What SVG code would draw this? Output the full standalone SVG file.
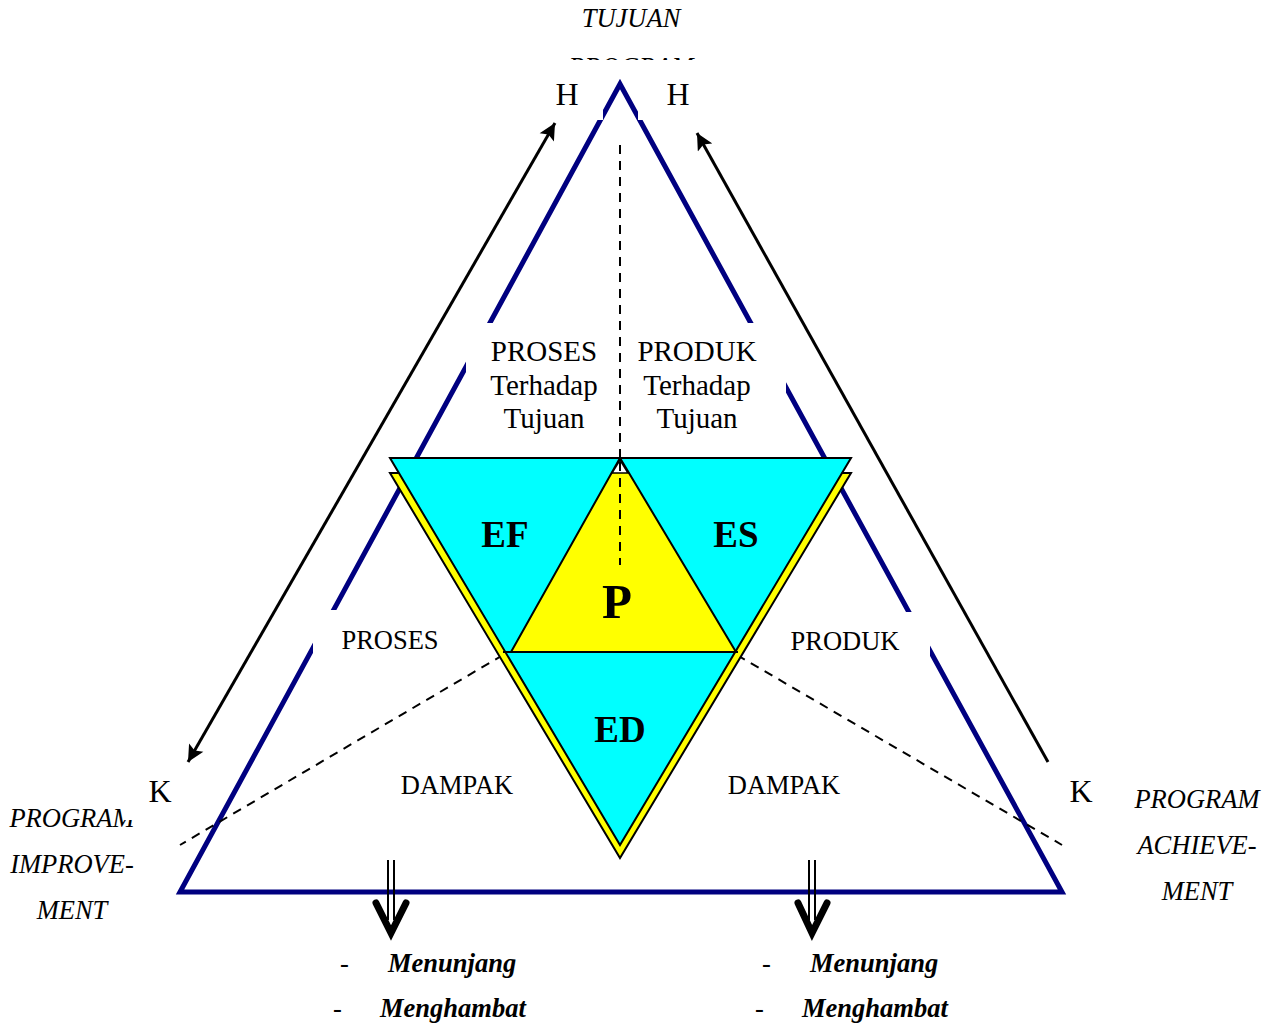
<svg xmlns="http://www.w3.org/2000/svg" width="1277" height="1025" viewBox="0 0 1277 1025">
<defs>
<style>
text{font-family:"Liberation Serif","Times New Roman",serif;fill:#000}
.lbl{font-size:29px;text-anchor:middle}
.sm{font-size:26.5px;text-anchor:middle}
.it{font-size:26.5px;font-style:italic;text-anchor:middle}
.big{font-size:37px;font-weight:bold;text-anchor:middle}
.bi{font-size:26.5px;font-weight:bold;font-style:italic}
.dsh{font-size:26.5px}
.hk{font-size:32px;text-anchor:middle}
.dash{stroke:#000;stroke-width:2;stroke-dasharray:9,7;fill:none}
.wb{fill:#fff;stroke:none}
.tri{stroke:#000;stroke-width:2;stroke-linejoin:miter}
</style>
<marker id="ah" viewBox="0 0 10 10" refX="10" refY="5" markerWidth="6" markerHeight="5.5" orient="auto-start-reverse" markerUnits="strokeWidth">
<path d="M0,0 L10,5 L0,10 L2,5 Z" fill="#000"/>
</marker>
</defs>
<rect width="1277" height="1025" fill="#fff"/>

<g id="title">
<text class="it" x="631" y="27">TUJUAN</text>
<text class="it" x="631" y="76">PROGRAM</text>
<rect class="wb" x="540" y="60" width="170" height="22"/>
</g>

<g id="outer-triangle">
<polygon points="620,84 180,892 1062,892" fill="none" stroke="#000080" stroke-width="5"/>
</g>

<g id="cover-boxes">
<rect class="wb" x="540" y="82" width="63" height="38"/>
<rect class="wb" x="638" y="82" width="62" height="38"/>
<rect class="wb" x="466" y="323" width="134" height="117"/>
<rect class="wb" x="630" y="323" width="156" height="117"/>
<rect class="wb" x="313" y="610" width="130" height="55"/>
<rect class="wb" x="760" y="612" width="170" height="55"/>
</g>

<g id="connectors">
<line class="dash" x1="620" y1="145" x2="620" y2="565"/>
<line class="dash" x1="503" y1="655" x2="180" y2="845"/>
<line class="dash" x1="737" y1="655" x2="1062" y2="845"/>
<line x1="188" y1="762" x2="555" y2="123" stroke="#000" stroke-width="3" marker-start="url(#ah)" marker-end="url(#ah)"/>
<line x1="1048" y1="762" x2="697" y2="133" stroke="#000" stroke-width="3" marker-end="url(#ah)"/>
<g id="down-arrow-left" fill="none" stroke="#000">
<line x1="388" y1="860" x2="388" y2="920" stroke-width="2"/>
<line x1="394" y1="860" x2="394" y2="920" stroke-width="2"/>
<polyline points="376,903 391,933 406,903" stroke-width="7" stroke-linecap="round" stroke-linejoin="miter"/>
</g>
<g id="down-arrow-right" fill="none" stroke="#000">
<line x1="809" y1="860" x2="809" y2="920" stroke-width="2"/>
<line x1="815" y1="860" x2="815" y2="920" stroke-width="2"/>
<polyline points="798,903 812,933 827,903" stroke-width="7" stroke-linecap="round" stroke-linejoin="miter"/>
</g>
</g>

<g id="inner-triangle">
<polygon class="tri" points="390,473 851,473 620,858" fill="#ffff00"/>
<polygon class="tri" points="390,458 851,458 620,845" fill="#00ffff"/>
<polygon class="tri" points="620,458 511,652 736,652" fill="#ffff00"/>
<polygon points="620,460 612,473 628,473" fill="#fff" stroke="#000" stroke-width="1.5"/>
<line x1="503" y1="652" x2="738" y2="652" stroke="#000" stroke-width="2"/>
<line class="dash" x1="620" y1="462" x2="620" y2="565"/>
</g>

<g id="node-EF"><text class="big" x="505" y="547">EF</text></g>
<g id="node-ES"><text class="big" x="736" y="547">ES</text></g>
<g id="node-P"><text class="big" x="617" y="618" style="font-size:49px">P</text></g>
<g id="node-ED"><text class="big" x="620" y="742">ED</text></g>

<g id="labels">
<text class="lbl" x="544" y="361">PROSES</text>
<text class="lbl" x="544" y="395">Terhadap</text>
<text class="lbl" x="544" y="428">Tujuan</text>
<text class="lbl" x="697" y="361">PRODUK</text>
<text class="lbl" x="697" y="395">Terhadap</text>
<text class="lbl" x="697" y="428">Tujuan</text>
<text class="sm" x="390" y="649">PROSES</text>
<text class="sm" x="845" y="650">PRODUK</text>
<text class="sm" x="457" y="794">DAMPAK</text>
<text class="sm" x="784" y="794">DAMPAK</text>
<text class="hk" x="567" y="105">H</text>
<text class="hk" x="678" y="105">H</text>
<text class="hk" x="1081" y="802">K</text>
</g>

<g id="program-improvement">
<text class="it" x="72" y="827">PROGRAM</text>
<rect class="wb" x="124" y="775" width="60" height="45"/>
<text class="it" x="72" y="873">IMPROVE-</text>
<text class="it" x="72" y="919">MENT</text>
<text class="hk" x="160" y="802">K</text>
</g>
<g id="program-achievement">
<text class="it" x="1197" y="808">PROGRAM</text>
<text class="it" x="1197" y="854">ACHIEVE-</text>
<text class="it" x="1197" y="900">MENT</text>
</g>

<g id="bottom-left">
<text class="dsh" x="340" y="972">-</text>
<text class="bi" x="388" y="972">Menunjang</text>
<text class="dsh" x="333" y="1017">-</text>
<text class="bi" x="380" y="1017">Menghambat</text>
</g>
<g id="bottom-right">
<text class="dsh" x="762" y="972">-</text>
<text class="bi" x="810" y="972">Menunjang</text>
<text class="dsh" x="755" y="1017">-</text>
<text class="bi" x="802" y="1017">Menghambat</text>
</g>
</svg>
